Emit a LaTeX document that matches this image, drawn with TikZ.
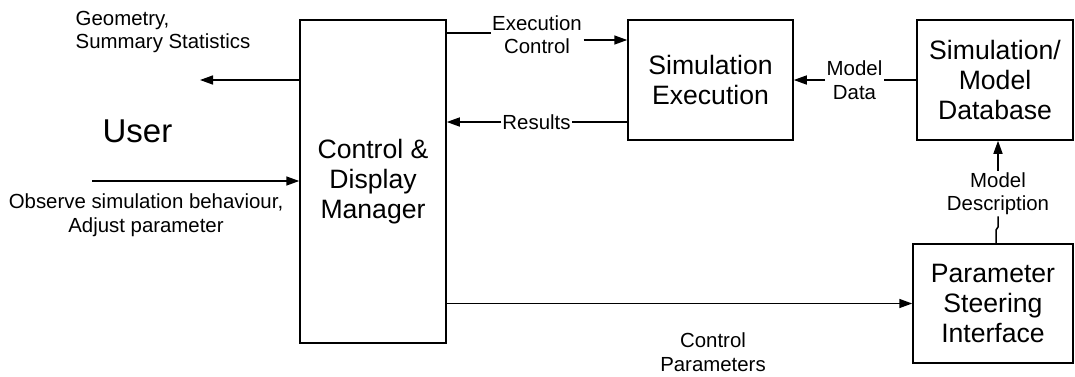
\documentclass[tikz,border=0pt]{standalone}
\usepackage{fontspec}
\setmainfont{Liberation Sans}
\usetikzlibrary{arrows.meta}
\begin{document}
\begin{tikzpicture}[x=1pt,y=-1pt,
  box/.style={draw,line width=1.5pt,align=center,inner sep=0pt,font=\fontsize{26.6}{30}\selectfont},
  lbl/.style={align=center,inner sep=1.5pt,font=\fontsize{20.4}{23.5}\selectfont},
  ln/.style={line width=1.5pt},
  arr/.style={line width=1.5pt,-{Triangle[length=13pt,width=9pt]}}]
\useasboundingbox (0,0) rectangle (1075,376);
% boxes
\node[box,minimum width=146pt,minimum height=323pt] (cdm) at (373,181.5) {Control \&\\Display\\Manager};
\node[box,minimum width=165pt,minimum height=120pt] (see) at (710.5,80) {Simulation\\Execution};
\node[box,minimum width=156pt,minimum height=120pt] (db) at (995,80) {Simulation/\\Model\\Database};
\node[box,minimum width=160pt,minimum height=119pt] (psi) at (993,303.5) {Parameter\\Steering\\Interface};
% free texts
\node[lbl,align=left,anchor=west] (geo) at (74,32) {Geometry,\\Summary Statistics};
\node[font=\fontsize{33}{38}\selectfont,inner sep=0pt] (user) at (137.5,131) {User};
\node[lbl] (obs) at (146,215) {Observe simulation behaviour,\\Adjust parameter};
% connector labels
\node[lbl] (ec) at (537,34.5) {Execution\\Control};
\node[lbl,inner sep=1pt] (res) at (536.5,122) {Results};
\node[lbl] (md) at (854.5,80) {Model\\Data};
\node[lbl] (mdesc) at (998,193.5) {Model\\Description};
\node[lbl] (cp) at (713,352) {Control\\Parameters};
% helper coordinates
\coordinate (geoend) at (200,80);
\coordinate (obsstart) at (92,181);
\coordinate (ecin) at (0,33);
\coordinate (ecout) at (0,40);
\coordinate (jog1) at (996,230);
\coordinate (jog2) at (998,227);
% connectors
\draw[arr] (cdm.west |- geoend) -- (geoend);
\draw[arr] (obsstart) -- (cdm.west |- obsstart);
\draw[ln] (cdm.east |- ecin) -- (ec.west |- ecin);
\draw[arr] (ec.east |- ecout) -- (see.west |- ecout);
\draw[ln] (see.west |- res.east) -- (res.east);
\draw[arr] (res.west) -- (cdm.east |- res.west);
\draw[ln] (db.west) -- (md.east);
\draw[arr] (md.west) -- (see.east);
\draw[ln] (psi.north -| jog1) -- (jog1) -- (jog2) -- (mdesc.south -| jog2);
\draw[arr] (mdesc.north -| jog2) -- (db.south -| jog2);
\draw[arr] (cdm.east |- psi.west) -- (psi.west);
\end{tikzpicture}
\end{document}
